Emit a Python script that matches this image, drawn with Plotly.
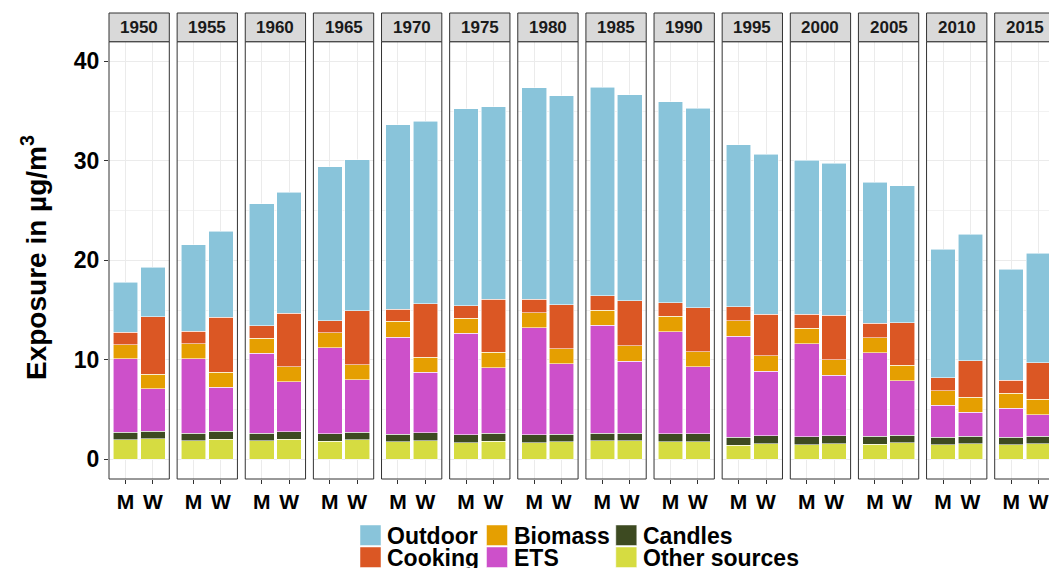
import plotly.graph_objects as go
from plotly.subplots import make_subplots

W_PX, H_PX = 1049, 568

years = [1950, 1955, 1960, 1965, 1970, 1975, 1980, 1985, 1990, 1995, 2000, 2005, 2010, 2015]
sexes = ["M", "W"]

# exposure contributions in ug/m3 (M = men, W = women)
other_m = [1.94, 1.87, 1.87, 1.81, 1.74, 1.67, 1.67, 1.84, 1.77, 1.41, 1.47, 1.51, 1.44, 1.44]
other_w = [2.04, 2.00, 2.00, 1.94, 1.87, 1.81, 1.74, 1.84, 1.77, 1.57, 1.57, 1.64, 1.54, 1.54]
candles_m = [0.80, 0.77, 0.77, 0.76, 0.77, 0.80, 0.80, 0.77, 0.80, 0.80, 0.80, 0.80, 0.80, 0.80]
candles_w = [0.80, 0.81, 0.77, 0.77, 0.80, 0.83, 0.80, 0.80, 0.80, 0.80, 0.80, 0.80, 0.80, 0.80]
ets_m = [7.34, 7.44, 8.04, 8.65, 9.78, 10.22, 10.76, 10.86, 10.26, 10.15, 9.35, 8.40, 3.19, 2.89]
ets_w = [4.23, 4.43, 5.00, 5.29, 6.07, 6.54, 7.07, 7.21, 6.71, 6.50, 6.10, 5.46, 2.38, 2.14]
biomass_m = [1.44, 1.54, 1.51, 1.51, 1.58, 1.51, 1.50, 1.53, 1.54, 1.54, 1.54, 1.51, 1.46, 1.50]
biomass_w = [1.47, 1.53, 1.51, 1.51, 1.54, 1.60, 1.51, 1.54, 1.54, 1.54, 1.54, 1.55, 1.51, 1.55]
cooking_m = [1.24, 1.24, 1.24, 1.20, 1.21, 1.21, 1.35, 1.44, 1.34, 1.41, 1.44, 1.45, 1.31, 1.31]
cooking_w = [5.79, 5.53, 5.42, 5.43, 5.33, 5.30, 4.39, 4.52, 4.42, 4.19, 4.46, 4.25, 3.68, 3.68]
outdoor_m = [5.03, 8.68, 12.26, 15.45, 18.55, 19.80, 21.24, 20.95, 20.23, 16.28, 15.48, 14.17, 12.90, 11.16]
outdoor_w = [4.97, 8.60, 12.13, 15.17, 18.36, 19.36, 21.03, 20.74, 20.04, 16.08, 15.28, 13.77, 12.70, 10.99]

# stacking order bottom -> top
sources = [
    ("Other sources", other_m, other_w, "#d6dc41"),
    ("Candles", candles_m, candles_w, "#3d4a21"),
    ("ETS", ets_m, ets_w, "#cd50ca"),
    ("Biomass", biomass_m, biomass_w, "#e59f01"),
    ("Cooking", cooking_m, cooking_w, "#db5724"),
    ("Outdoor", outdoor_m, outdoor_w, "#89c4da"),
]
legend_cols = [["Outdoor", "Cooking"], ["Biomass", "ETS"], ["Candles", "Other sources"]]
colors = {s[0]: s[3] for s in sources}

FONT = "Liberation Sans, Arial, sans-serif"


# window pixel -> paper coordinates
def px_x(p):
    return p / W_PX


def px_y(p):
    return 1 - p / H_PX


n = len(years)
fig = make_subplots(rows=1, cols=n, shared_yaxes=True)

for i, yr in enumerate(years):
    for name, m, w, col in sources:
        fig.add_trace(go.Bar(x=sexes, y=[m[i], w[i]], name=name, marker_color=col,
                             marker_line=dict(color="rgba(255,255,255,0.7)", width=0.8),
                             width=0.9, showlegend=False), row=1, col=i + 1)

# panel geometry (pixels)
left0, pitch, pw = 109.0, 68.13, 60.3
top_px, bot_px, strip_top = 41.7, 479.0, 13.0

shapes = []
annotations = []
for i, yr in enumerate(years):
    l = left0 + pitch * i
    r = l + pw
    vis_r = min(r, W_PX)
    rng_hi = -0.6 + 2.2 * (vis_r - l) / pw
    ax = "xaxis" if i == 0 else f"xaxis{i + 1}"
    fig.layout[ax].update(domain=[px_x(l), px_x(vis_r)], range=[-0.6, rng_hi],
                          categoryorder="array", categoryarray=sexes,
                          showgrid=True, gridcolor="#ebebeb", gridwidth=1,
                          ticks="outside", ticklen=4, tickcolor="#333333",
                          tickfont=dict(family=FONT, size=21, color="black", weight="bold"),
                          showline=False, zeroline=False, fixedrange=True)
    # panel border and strip
    shapes.append(dict(type="rect", xref="paper", yref="paper", x0=px_x(l), x1=px_x(r),
                       y0=px_y(bot_px), y1=px_y(top_px), line=dict(color="#333333", width=1),
                       fillcolor="rgba(0,0,0,0)", layer="above"))
    shapes.append(dict(type="rect", xref="paper", yref="paper", x0=px_x(l), x1=px_x(r),
                       y0=px_y(top_px), y1=px_y(strip_top), line=dict(color="#333333", width=1),
                       fillcolor="#d9d9d9", layer="above"))
    annotations.append(dict(text=str(yr), x=px_x((l + r) / 2), y=px_y((strip_top + top_px) / 2),
                            xref="paper", yref="paper", showarrow=False,
                            xanchor="center", yanchor="middle",
                            font=dict(family=FONT, size=17, color="#1a1a1a", weight="bold")))

for i in range(n):
    ay = "yaxis" if i == 0 else f"yaxis{i + 1}"
    fig.layout[ay].update(domain=[px_y(bot_px), px_y(top_px)], range=[-1.98, 41.97],
                          tickvals=[0, 10, 20, 30, 40],
                          showgrid=True, gridcolor="#ebebeb", gridwidth=1,
                          minor=dict(tick0=5, dtick=10, showgrid=True, gridcolor="#f2f2f2", gridwidth=0.6),
                          zeroline=False, showline=False, fixedrange=True,
                          ticks="outside" if i == 0 else "", ticklen=4, tickcolor="#333333",
                          showticklabels=(i == 0),
                          tickfont=dict(family=FONT, size=23, color="black", weight="bold"))

annotations.append(dict(text="Exposure in µg/m<sup>3</sup>", textangle=-90,
                        x=px_x(34), y=px_y(258), xref="paper", yref="paper",
                        showarrow=False, xanchor="center", yanchor="middle",
                        font=dict(family=FONT, size=28, color="black", weight="bold")))

# legend (2 rows, column-major) drawn by hand
key_x = [360.0, 486.5, 615.8]
row_y = [525.0, 547.0]
for c, col_names in enumerate(legend_cols):
    for r, name in enumerate(col_names):
        x0, y0 = key_x[c], row_y[r]
        shapes.append(dict(type="rect", xref="paper", yref="paper", x0=px_x(x0), x1=px_x(x0 + 21),
                           y0=px_y(y0 + 20.5), y1=px_y(y0), fillcolor=colors[name],
                           line=dict(color="rgba(255,255,255,0.6)", width=0.8)))
        annotations.append(dict(text=name, x=px_x(x0 + 25), y=px_y(y0 + 10.5), xref="paper", yref="paper",
                                xanchor="left", yanchor="middle", showarrow=False,
                                font=dict(family=FONT, size=23, color="black", weight="bold")))

fig.update_layout(width=W_PX, height=H_PX, barmode="stack",
                  margin=dict(l=0, r=0, t=0, b=0, autoexpand=False),
                  plot_bgcolor="white", paper_bgcolor="white",
                  shapes=shapes, annotations=annotations, showlegend=False)

# drop the default page margin so the figure fills the 1049x568 window exactly
fig.write_html("out.html", config={"displayModeBar": False},
               post_script="document.body.style.margin='0';document.body.style.overflow='hidden';")
